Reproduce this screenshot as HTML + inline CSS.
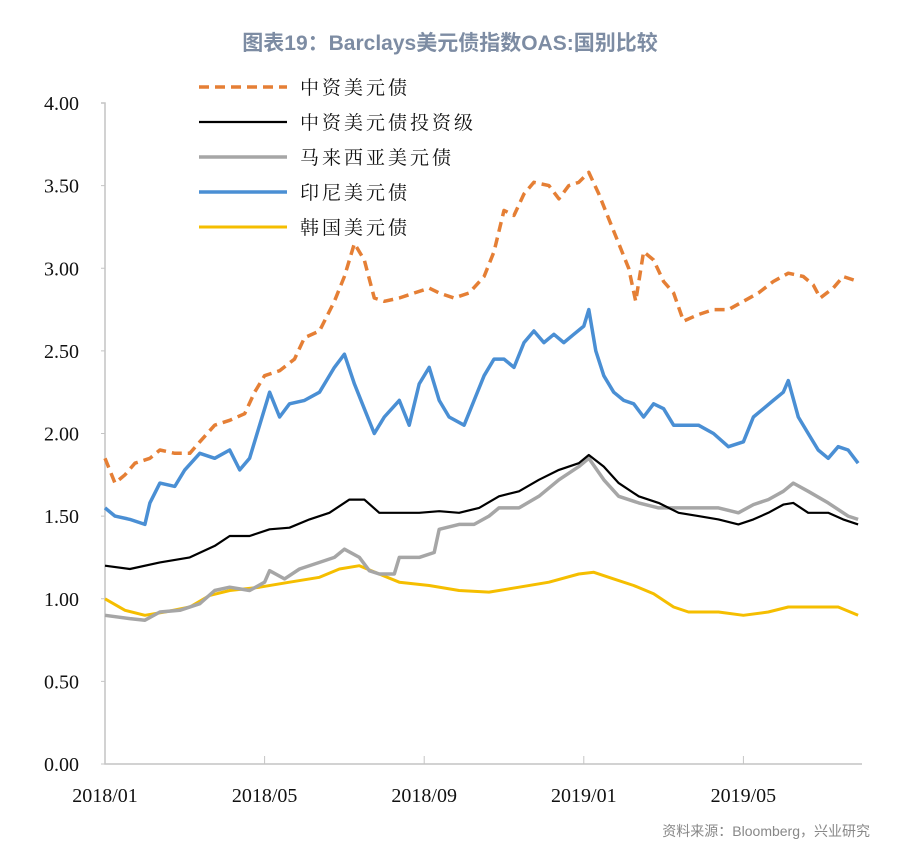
<!DOCTYPE html>
<html><head><meta charset="utf-8"><style>
body{margin:0;background:#fff;width:900px;height:856px;overflow:hidden}
svg text{font-family:"Liberation Serif","Noto Serif CJK SC",serif}
</style></head><body>
<svg id="c" width="900" height="856">
<text x="450" y="50" text-anchor="middle" font-size="21" font-weight="bold" fill="#7d8ca3" style="font-family:'Liberation Sans','Noto Sans CJK SC',sans-serif">图表19：Barclays美元债指数OAS:国别比较</text>
<text x="870" y="836" text-anchor="end" font-size="14" fill="#888" style="font-family:'Liberation Sans','Noto Sans CJK SC',sans-serif">资料来源：Bloomberg，兴业研究</text>
</svg>
<script>
// time in months since 2018/01
const cnT=[0,.25,.5,.75,1.125,1.375,1.75,2.125,2.375,2.75,3.125,3.5,3.75,4,4.375,4.75,5,5.375,5.75,6,6.25,6.5,6.75,7,7.375,7.75,8.125,8.375,8.75,9.125,9.5,9.75,10,10.25,10.5,10.75,11.125,11.375,11.625,11.875,12.125,12.375,12.625,12.875,13.125,13.3,13.5,13.75,14,14.25,14.5,14.875,15.25,15.625,16,16.375,16.75,17.125,17.5,17.75,17.925,18.25,18.5,18.875];
const cnV=[1.85,1.70,1.75,1.82,1.85,1.90,1.88,1.88,1.95,2.05,2.08,2.12,2.25,2.35,2.38,2.45,2.58,2.62,2.80,2.95,3.15,3.05,2.82,2.80,2.82,2.85,2.88,2.85,2.82,2.85,2.95,3.10,3.35,3.32,3.45,3.52,3.50,3.42,3.50,3.52,3.58,3.45,3.30,3.15,3.00,2.80,3.10,3.05,2.92,2.85,2.68,2.72,2.75,2.75,2.80,2.85,2.92,2.97,2.95,2.90,2.82,2.88,2.95,2.92];
const idT=[0,.25,.625,1,1.125,1.375,1.75,2,2.375,2.75,3.125,3.375,3.625,3.875,4.125,4.375,4.625,5,5.375,5.75,6,6.25,6.5,6.75,7,7.375,7.625,7.875,8.125,8.375,8.625,9,9.25,9.5,9.75,10,10.25,10.5,10.75,11,11.25,11.5,11.75,12,12.125,12.3,12.5,12.75,13,13.25,13.5,13.75,14,14.25,14.5,14.875,15.25,15.625,16,16.25,16.5,16.75,17,17.125,17.375,17.625,17.875,18.125,18.375,18.625,18.875];
const idV=[1.55,1.50,1.48,1.45,1.58,1.70,1.68,1.78,1.88,1.85,1.90,1.78,1.85,2.05,2.25,2.10,2.18,2.20,2.25,2.40,2.48,2.30,2.15,2.00,2.10,2.20,2.05,2.30,2.40,2.20,2.10,2.05,2.20,2.35,2.45,2.45,2.40,2.55,2.62,2.55,2.60,2.55,2.60,2.65,2.75,2.50,2.35,2.25,2.20,2.18,2.10,2.18,2.15,2.05,2.05,2.05,2.00,1.92,1.95,2.10,2.15,2.20,2.25,2.32,2.10,2.00,1.90,1.85,1.92,1.90,1.82];
const bkT=[0,.625,1.375,2.125,2.75,3.125,3.625,4.125,4.625,5.125,5.625,6.125,6.5,6.875,7.375,7.875,8.375,8.875,9.375,9.875,10.375,10.875,11.375,11.875,12.125,12.5,12.875,13.375,13.875,14.375,14.875,15.375,15.875,16.25,16.625,17,17.25,17.625,18.125,18.5,18.875];
const bkV=[1.20,1.18,1.22,1.25,1.32,1.38,1.38,1.42,1.43,1.48,1.52,1.60,1.60,1.52,1.52,1.52,1.53,1.52,1.55,1.62,1.65,1.72,1.78,1.82,1.87,1.80,1.70,1.62,1.58,1.52,1.50,1.48,1.45,1.48,1.52,1.57,1.58,1.52,1.52,1.48,1.45];
const myT=[0,.625,1,1.375,1.875,2.375,2.75,3.125,3.625,4,4.125,4.5,4.875,5.375,5.75,6,6.375,6.625,6.875,7.25,7.375,7.875,8.25,8.375,8.875,9.25,9.625,9.875,10.375,10.875,11.375,11.875,12.125,12.5,12.875,13.375,13.875,14.375,14.875,15.375,15.875,16.25,16.625,17,17.25,17.625,18.125,18.625,18.875];
const myV=[0.90,0.88,0.87,0.92,0.93,0.97,1.05,1.07,1.05,1.10,1.17,1.12,1.18,1.22,1.25,1.30,1.25,1.17,1.15,1.15,1.25,1.25,1.28,1.42,1.45,1.45,1.50,1.55,1.55,1.62,1.72,1.80,1.85,1.72,1.62,1.58,1.55,1.55,1.55,1.55,1.52,1.57,1.60,1.65,1.70,1.65,1.58,1.50,1.48];
const krT=[0,.5,1,1.5,2.125,2.625,3.125,3.875,4.625,5.375,5.875,6.375,6.875,7.375,8.125,8.875,9.625,10.375,11.125,11.875,12.25,12.75,13.25,13.75,14.25,14.625,15.375,16,16.625,17.125,17.625,18.375,18.875];
const krV=[1.00,0.93,0.90,0.92,0.95,1.02,1.05,1.07,1.10,1.13,1.18,1.20,1.15,1.10,1.08,1.05,1.04,1.07,1.10,1.15,1.16,1.12,1.08,1.03,0.95,0.92,0.92,0.90,0.92,0.95,0.95,0.95,0.90];
const yTicks=["0.00","0.50","1.00","1.50","2.00","2.50","3.00","3.50","4.00"];
const xTicks=["2018/01","2018/05","2018/09","2019/01","2019/05"];
const xTickMonths=[0,4,8,12,16];
const seriesNames=["中资美元债","中资美元债投资级","马来西亚美元债","印尼美元债","韩国美元债"];

const NS="http://www.w3.org/2000/svg",svg=document.getElementById('c');
const X=t=>105+t*39.9, Y=v=>764-v*165.25;
function mk(tag,a,parent){const e=document.createElementNS(NS,tag);for(const k in a)e.setAttribute(k,a[k]);(parent||svg).appendChild(e);return e;}
const ax=mk('path',{d:'M101 '+Y(4)+'H105V764H862',fill:'none',stroke:'#c4c4c4','stroke-width':1.5});


yTicks.forEach(s=>{const v=parseFloat(s);
 const tk=mk('line',{x1:101,x2:105,y1:Y(v),y2:Y(v),stroke:'#c4c4c4'});
 
 
 const t=mk('text',{x:79,y:Y(v)+7,'text-anchor':'end','font-size':20,fill:'#111'});t.textContent=s;
 
 });
xTicks.forEach((s,i)=>{const x=X(xTickMonths[i]);
 if(i>0){const tk=mk('line',{x1:x,x2:x,y1:756,y2:764,stroke:'#c4c4c4'});
 
 }
 const t=mk('text',{x:x,y:802,'text-anchor':'middle','font-size':20,fill:'#111'});t.textContent=s;
 
 });
const styles=[
 {c:'#e57f35',w:3.5,d:'10 6',T:cnT,V:cnV,n:'line-china'},
 {c:'#000',w:2.2,d:'',T:bkT,V:bkV,n:'line-china-ig'},
 {c:'#a6a6a6',w:3.5,d:'',T:myT,V:myV,n:'line-malaysia'},
 {c:'#4a8fd4',w:3.5,d:'',T:idT,V:idV,n:'line-indonesia'},
 {c:'#f5be00',w:3,d:'',T:krT,V:krV,n:'line-korea'}];
const order=[4,2,1,3,0];
order.forEach(i=>{const s=styles[i];
 const p=mk('path',{d:s.T.map((t,j)=>(j?'L':'M')+X(t).toFixed(1)+' '+Y(s.V[j]).toFixed(1)).join(''),fill:'none',stroke:s.c,'stroke-width':s.w,'stroke-dasharray':s.d,'stroke-linejoin':'round'});
 
 });
styles.forEach((s,i)=>{const y=87+i*35;
 const g=mk('g',{});
 
 
 mk('line',{x1:199,x2:287,y1:y,y2:y,stroke:s.c,'stroke-width':s.w,'stroke-dasharray':s.d},g);
 const t=mk('text',{x:300,y:y+7,'font-size':19,fill:'#111','letter-spacing':'3',style:"font-family:'Liberation Serif','Noto Serif CJK SC',serif"},g);t.textContent=seriesNames[i];});
</script>
</body></html>
